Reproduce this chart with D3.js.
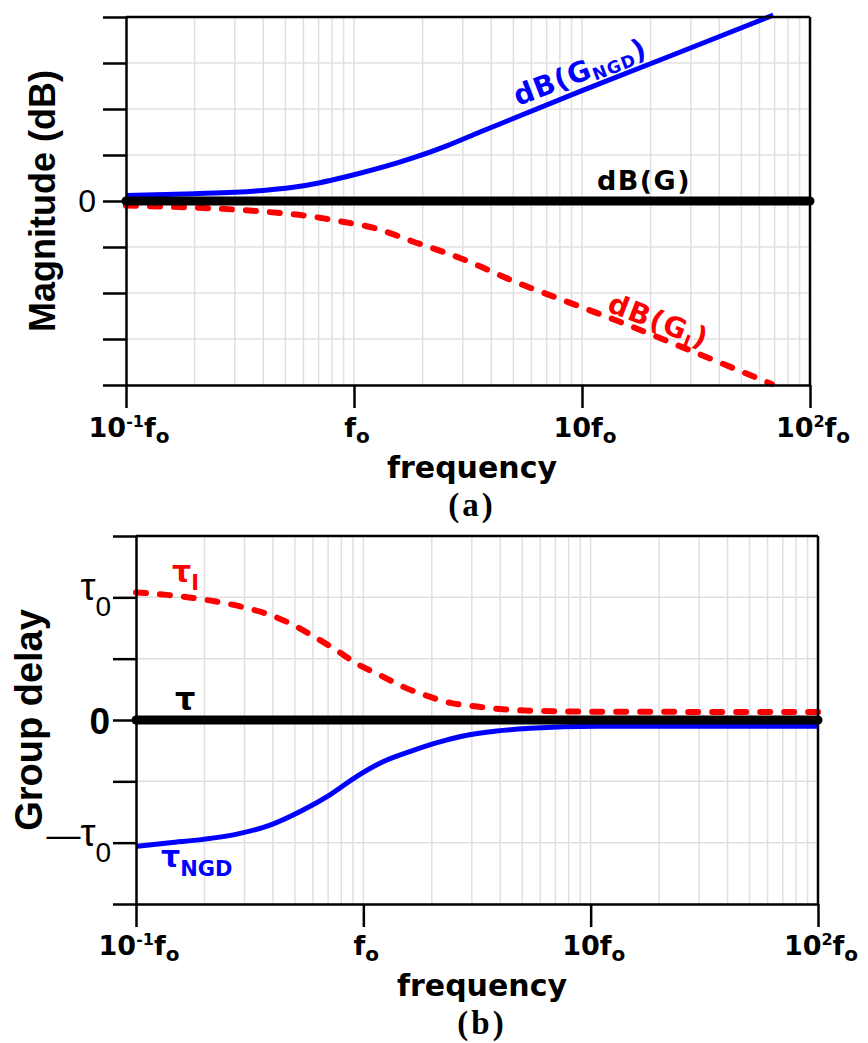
<!DOCTYPE html>
<html>
<head>
<meta charset="utf-8">
<script src="https://cdn.jsdelivr.net/npm/d3@7"></script>
<style>
  body { margin: 0; background: #fff; }
</style>
</head>
<body>
<div id="vis"></div>
<script>
// frequencies are in units of f0

// (a) magnitude, in grid divisions
var magFreqNGD = [0.1, 0.2, 0.3, 0.4, 0.6, 1.0, 1.8, 2.55, 3.57, 10, 27, 69];
var magNGD     = [0.12, 0.16, 0.19, 0.23, 0.33, 0.57, 0.93, 1.2, 1.5, 2.4, 3.24, 4.04];
var magFreqI   = [0.1, 0.17, 0.4, 0.66, 0.89, 1.21, 1.48, 1.81, 2.38, 3.13, 3.57, 5.0, 8.0, 13.7, 28.9, 68];
var magI       = [-0.10, -0.13, -0.23, -0.34, -0.45, -0.58, -0.72, -0.88, -1.08, -1.3, -1.42, -1.74, -2.13, -2.57, -3.22, -3.98];
var magFreqG   = [0.1, 100];
var magG       = [0, 0];
var magTicks   = [-4, -3, -2, -1, 0, 1, 2, 3, 4];

// (b) group delay, in units of tau0
var delFreqI   = [0.1, 0.137, 0.178, 0.234, 0.296, 0.377, 0.486, 0.6, 0.75, 0.94, 1.18, 1.5, 1.91, 2.41, 3.16, 4.12, 5.41, 10.7, 100];
var delI       = [1.04, 1.02, 0.995, 0.96, 0.92, 0.865, 0.78, 0.685, 0.577, 0.457, 0.367, 0.27, 0.196, 0.14, 0.11, 0.087, 0.076, 0.068, 0.065];
var delFreqNGD = [0.1, 0.141, 0.197, 0.278, 0.389, 0.543, 0.713, 0.94, 1.22, 1.6, 2.11, 2.75, 3.87, 5.41, 10.7, 100];
var delNGD     = [-1.03, -1.0, -0.973, -0.93, -0.857, -0.734, -0.61, -0.457, -0.34, -0.258, -0.185, -0.13, -0.09, -0.068, -0.05, -0.05];
var delFreqG   = [0.1, 100];
var delG       = [0, 0];
var delTicks   = [-1.5, -1, -0.5, 0, 0.5, 1, 1.5];

// x tick labels: [mantissa, exponent]
var decades      = [0.1, 1, 10, 100];
var decadeLabels = [["10", "-1"], ["", ""], ["10", ""], ["10", "2"]];

var BLUE = "#0000ff", RED = "#ff0000";
var sans = "'Liberation Sans', Arial, sans-serif";
var wide = "'DejaVu Sans', Verdana, sans-serif";

var svg = d3.select("#vis").append("svg")
  .attr("width", 868)
  .attr("height", 1043);
svg.append("rect").attr("width", 868).attr("height", 1043).attr("fill", "#fff");

function zip(f, v) { return f.map(function(d, i){ return {f: d, v: v[i]}; }); }

function drawPanel(p) {
  var x = d3.scaleLog().domain([0.1, 100]).range([p.left, p.right]);
  var y = d3.scaleLinear().domain(p.yDomain).range([p.bottom, p.top]);
  var g = svg.append("g");

  // log grid
  var vgrid = [];
  decades.slice(0, 3).forEach(function(d){
    for (var k = 2; k <= 9; k++) vgrid.push(d * k);
  });
  vgrid.push(1, 10);
  g.selectAll(".vgrid").data(vgrid).enter().append("line")
    .attr("x1", function(d){ return x(d); })
    .attr("x2", function(d){ return x(d); })
    .attr("y1", p.top).attr("y2", p.bottom)
    .attr("stroke", "#e0e0e0").attr("stroke-width", 1.5);
  g.selectAll(".hgrid").data(p.yTicks).enter().append("line")
    .attr("x1", p.left).attr("x2", p.right)
    .attr("y1", function(d){ return y(d); })
    .attr("y2", function(d){ return y(d); })
    .attr("stroke", "#e0e0e0").attr("stroke-width", 1.5);

  var line = d3.line()
    .x(function(d){ return x(d.f); })
    .y(function(d){ return y(d.v); })
    .curve(d3.curveMonotoneX);

  g.append("path").datum(p.red)
    .attr("d", line).attr("fill", "none")
    .attr("stroke", RED).attr("stroke-width", 6)
    .attr("stroke-dasharray", "10,14").attr("stroke-linecap", "round");
  g.append("path").datum(p.blue)
    .attr("d", line).attr("fill", "none")
    .attr("stroke", BLUE).attr("stroke-width", 5);
  g.append("path").datum(p.black)
    .attr("d", line).attr("fill", "none")
    .attr("stroke", "#000").attr("stroke-width", 9).attr("stroke-linecap", "round");

  // axes
  var yAxis = g.append("g")
    .attr("transform", "translate(" + p.left + ",0)")
    .call(d3.axisLeft(y).tickValues(p.yTicks).tickSize(23).tickSizeOuter(0).tickFormat(""));
  var xAxis = g.append("g")
    .attr("transform", "translate(0," + p.bottom + ")")
    .call(d3.axisBottom(x).tickValues(decades).tickSize(23).tickSizeOuter(0).tickFormat(""));
  [yAxis, xAxis].forEach(function(a){
    a.select(".domain").attr("stroke", "#000").attr("stroke-width", 2.5);
    a.selectAll(".tick line").attr("stroke", "#000").attr("stroke-width", 2.5);
  });
  g.append("line").attr("x1", p.left).attr("x2", p.right)
    .attr("y1", p.top).attr("y2", p.top)
    .attr("stroke", "#000").attr("stroke-width", 2.5);
  g.append("line").attr("x1", p.right).attr("x2", p.right)
    .attr("y1", p.top).attr("y2", p.bottom)
    .attr("stroke", "#000").attr("stroke-width", 2.5);

  // x tick labels
  g.selectAll(".xlab").data(decades).enter().append("text")
    .attr("x", function(d){ return x(d) + 3; })
    .attr("y", p.xLabY)
    .attr("text-anchor", "middle")
    .style("font-family", wide).style("font-weight", "bold").style("font-size", "27px")
    .each(function(d, i){
      var t = d3.select(this), l = decadeLabels[i];
      if (l[0]) t.append("tspan").text(l[0]);
      if (l[1]) t.append("tspan").attr("dy", -10).style("font-size", "16px").text(l[1]);
      t.append("tspan").attr("dy", l[1] ? 10 : 0).text("f");
      t.append("tspan").attr("dy", 6).style("font-size", "20px").text("o");
    });

  g.append("text")
    .attr("x", p.freqX).attr("y", p.xLabY + 41)
    .attr("text-anchor", "middle")
    .style("font-family", wide).style("font-weight", "bold").style("font-size", "30px")
    .text("frequency");

  g.append("text")
    .attr("x", p.freqX).attr("y", p.xLabY + 79)
    .attr("text-anchor", "middle")
    .style("font-family", "'Liberation Serif', 'Times New Roman', serif")
    .style("font-weight", "bold").style("font-size", "33px")
    .style("letter-spacing", "3px")
    .text(p.tag);

  g.append("text")
    .attr("transform", "translate(" + p.yLabX + "," + ((p.top + p.bottom) / 2) + ") rotate(-90)")
    .attr("text-anchor", "middle")
    .style("font-family", sans).style("font-weight", "bold").style("font-size", p.yLabSize + "px")
    .text(p.yLabel);

  return {x: x, y: y, g: g};
}

// ---------- (a) ----------
var A = drawPanel({
  left: 126, right: 810, top: 17, bottom: 385,
  yDomain: [-4, 4], yTicks: magTicks,
  red: zip(magFreqI, magI), blue: zip(magFreqNGD, magNGD), black: zip(magFreqG, magG),
  xLabY: 437, freqX: 472, tag: "(a)",
  yLabel: "Magnitude (dB)", yLabX: 55, yLabSize: 36
});

A.g.append("text")
  .attr("x", 96).attr("y", A.y(0) + 11)
  .attr("text-anchor", "end")
  .style("font-family", sans).style("font-size", "32px")
  .text("0");

A.g.append("text")
  .attr("x", 644).attr("y", 190)
  .attr("text-anchor", "middle")
  .style("font-family", wide).style("font-weight", "bold").style("font-size", "27px")
  .style("letter-spacing", "1.5px")
  .text("dB(G)");

var ngdLab = A.g.append("text")
  .attr("transform", "translate(518,106) rotate(-21)")
  .style("font-family", wide).style("font-weight", "bold").style("font-size", "28px")
  .style("letter-spacing", "1px")
  .attr("fill", BLUE);
ngdLab.append("tspan").text("dB(G");
ngdLab.append("tspan").attr("dy", 4).style("font-size", "17px").text("NGD");
ngdLab.append("tspan").attr("dy", -4).text(")");

var iLab = A.g.append("text")
  .attr("transform", "translate(606,311) rotate(21)")
  .style("font-family", wide).style("font-weight", "bold").style("font-size", "28px")
  .style("letter-spacing", "1.5px")
  .attr("fill", RED);
iLab.append("tspan").text("dB(G");
iLab.append("tspan").attr("dy", 5).style("font-size", "17px").text("I");
iLab.append("tspan").attr("dy", -5).text(")");

// ---------- (b) ----------
var B = drawPanel({
  left: 136, right: 818, top: 536, bottom: 904,
  yDomain: [-1.5, 1.5], yTicks: delTicks,
  red: zip(delFreqI, delI), blue: zip(delFreqNGD, delNGD), black: zip(delFreqG, delG),
  xLabY: 955, freqX: 482, tag: "(b)",
  yLabel: "Group delay", yLabX: 42, yLabSize: 38
});

// y tick labels for tau
[[1, "", "\u03c4"], [-1, "\u2014", "\u03c4"]].forEach(function(t){
  var lab = B.g.append("text")
    .attr("x", 111).attr("y", B.y(t[0]) + 3)
    .attr("text-anchor", "end")
    .style("font-family", sans).style("font-size", "34px");
  lab.append("tspan").text(t[1]);
  lab.append("tspan").style("font-size", "38px").text(t[2]);
  lab.append("tspan").attr("dy", 16).style("font-size", "28px").text("0");
});
B.g.append("text")
  .attr("x", 110).attr("y", B.y(0) + 14)
  .attr("text-anchor", "end")
  .style("font-family", sans).style("font-weight", "bold").style("font-size", "37px")
  .text("0");

B.g.append("text")
  .attr("x", 175).attr("y", 710)
  .style("font-family", wide).style("font-weight", "bold").style("font-size", "32px")
  .text("\u03c4");

var tauI = B.g.append("text")
  .attr("x", 172).attr("y", 582)
  .style("font-family", wide).style("font-weight", "bold").style("font-size", "30px")
  .attr("fill", RED);
tauI.append("tspan").text("\u03c4");
tauI.append("tspan").attr("dy", 8).style("font-size", "21px").text("I");

var tauN = B.g.append("text")
  .attr("x", 161).attr("y", 867)
  .style("font-family", wide).style("font-weight", "bold").style("font-size", "30px")
  .attr("fill", BLUE);
tauN.append("tspan").text("\u03c4");
tauN.append("tspan").attr("dy", 9).style("font-size", "21px").text("NGD");
</script>
</body>
</html>
